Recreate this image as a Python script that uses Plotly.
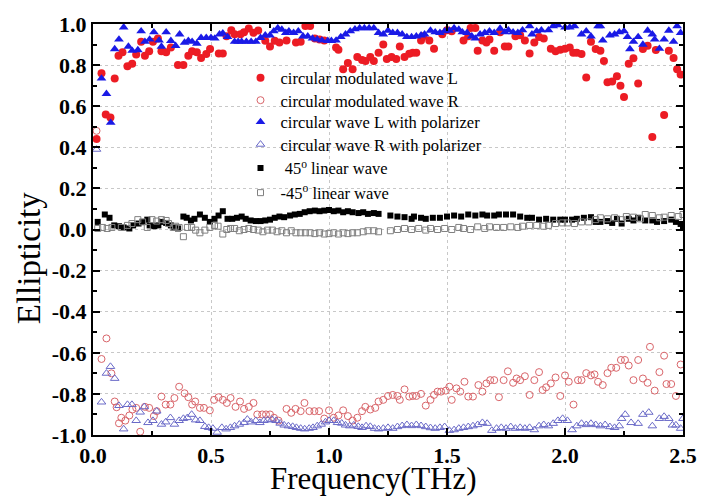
import plotly.graph_objects as go

# ---- data ----
RED_L_X = [0.015,0.036,0.054,0.074,0.092,0.108,0.125,0.146,0.166,0.183,0.204,0.22,0.238,0.254,0.275,0.29,0.31,0.33,0.36,0.383,
           0.404,0.42,0.44,0.458,0.48,0.496,0.533,0.55,0.566,0.586,0.60,0.625,0.64,0.66,0.68,0.70,0.73,0.75,0.77,0.79,
           0.82,0.86,0.88,0.90,0.92,0.94,0.96,0.98,1.03,1.04,1.06,1.08,1.10,1.12,1.14,1.155,1.175,1.19,1.21,1.23,
           1.245,1.265,1.285,1.30,1.32,1.34,1.355,1.37,1.39,1.40,1.425,1.445,1.48,1.50,1.52,1.57,1.59,1.60,1.62,1.63,
           1.65,1.667,1.68,1.70,1.725,1.745,1.76,1.79,1.81,1.83,1.85,1.87,1.89,1.91,1.94,1.96,1.98,2.00,2.02,2.035,
           2.05,2.07,2.09,2.11,2.13,2.15,2.165,2.18,2.20,2.22,2.235,2.25,2.27,2.29,2.31,2.33,2.35,2.37,2.385,2.42,
           2.44,2.46,2.475,2.49]
RED_L_Y = [0.44,0.76,0.56,0.545,0.735,0.846,0.862,0.794,0.806,0.851,0.914,0.846,0.867,0.914,0.93,0.867,0.862,0.886,0.80,0.80,
           0.846,0.867,0.862,0.835,0.854,0.878,0.857,0.857,0.94,0.97,0.95,0.95,0.96,0.978,0.957,0.968,0.918,0.89,0.918,0.91,
           0.92,0.91,0.914,0.99,0.99,0.93,0.925,0.92,0.886,0.875,0.78,0.81,0.78,0.84,0.825,0.82,0.84,0.82,0.86,0.90,
           0.83,0.84,0.83,0.89,0.84,0.855,0.86,0.86,0.92,0.94,0.92,0.88,0.95,0.97,0.965,0.92,0.94,0.98,0.98,0.87,
           0.92,0.91,0.925,0.87,0.96,0.89,0.89,0.94,0.945,0.92,0.857,0.91,0.937,0.93,0.88,0.867,0.875,0.88,0.886,0.86,
           0.86,0.854,0.74,0.914,0.878,0.87,0.82,0.716,0.72,0.746,0.70,0.645,0.806,0.833,0.71,0.878,0.894,0.45,0.873,0.557,
           0.87,0.835,0.78,0.754]

RED_R_X = [0.015,0.036,0.057,0.078,0.092,0.10,0.11,0.12,0.137,0.154,0.167,0.183,0.20,0.22,0.238,0.258,0.27,0.29,0.308,0.328,
           0.345,0.365,0.388,0.404,0.42,0.433,0.453,0.47,0.495,0.513,0.532,0.55,0.567,0.583,0.604,0.623,0.64,0.66,0.68,0.696,
           0.717,0.733,0.75,0.767,0.786,0.82,0.84,0.858,0.88,0.896,0.917,0.938,0.958,0.98,1.0,1.02,1.04,1.06,1.08,1.10,
           1.12,1.14,1.154,1.175,1.196,1.21,1.23,1.25,1.27,1.29,1.30,1.32,1.34,1.355,1.37,1.39,1.41,1.43,1.445,1.46,
           1.475,1.495,1.51,1.52,1.54,1.556,1.574,1.59,1.61,1.633,1.65,1.667,1.683,1.70,1.72,1.74,1.758,1.78,1.795,1.81,
           1.83,1.85,1.87,1.89,1.905,1.92,1.94,1.96,1.98,2.00,2.016,2.036,2.055,2.07,2.09,2.11,2.125,2.14,2.16,2.18,
           2.196,2.217,2.237,2.254,2.27,2.29,2.31,2.33,2.35,2.36,2.38,2.40,2.42,2.43,2.45,2.47,2.49]
RED_R_Y = [0.48,-0.63,-0.53,-0.70,-0.837,-0.865,-0.943,-0.916,-0.93,-0.905,-0.876,-0.868,-0.984,-0.863,-0.868,-0.908,-0.884,-0.813,-0.852,-0.852,
           -0.82,-0.765,-0.797,-0.816,-0.852,-0.837,-0.868,-0.868,-0.88,-0.829,-0.816,-0.829,-0.844,-0.82,-0.863,-0.837,-0.873,-0.863,-0.844,-0.90,
           -0.90,-0.90,-0.90,-0.916,-0.93,-0.873,-0.892,-0.873,-0.884,-0.844,-0.884,-0.884,-0.884,-0.92,-0.88,-0.916,-0.905,-0.88,-0.908,-0.93,
           -0.916,-0.884,-0.863,-0.876,-0.868,-0.837,-0.829,-0.81,-0.805,-0.81,-0.829,-0.778,-0.813,-0.81,-0.81,-0.80,-0.857,-0.829,-0.805,-0.789,
           -0.789,-0.784,-0.765,-0.829,-0.773,-0.789,-0.741,-0.813,-0.813,-0.757,-0.789,-0.749,-0.733,-0.733,-0.816,-0.733,-0.69,-0.746,-0.725,-0.733,
           -0.714,-0.805,-0.733,-0.694,-0.781,-0.768,-0.749,-0.72,-0.81,-0.71,-0.741,-0.852,-0.733,-0.733,-0.699,-0.71,-0.705,-0.741,-0.757,-0.699,
           -0.673,-0.673,-0.635,-0.635,-0.662,-0.733,-0.635,-0.725,-0.746,-0.571,-0.784,-0.694,-0.614,-0.752,-0.752,-0.81,-0.657]

BLUE_L_X = [0.036,0.057,0.075,0.092,0.11,0.13,0.15,0.166,0.19,0.204,0.22,0.24,0.258,0.28,0.29,0.31,0.33,0.35,0.367,0.388,
            0.404,0.42,0.44,0.458,0.48,0.50,0.516,0.536,0.55,0.57,0.60,0.615,0.63,0.65,0.67,0.69,0.71,0.73,0.75,0.766,
            0.783,0.80,0.817,0.83,0.85,0.87,0.89,0.91,0.93,0.95,0.97,0.995,1.01,1.03,1.05,1.07,1.09,1.11,1.13,1.15,
            1.17,1.19,1.21,1.23,1.25,1.27,1.29,1.31,1.33,1.35,1.37,1.39,1.405,1.43,1.45,1.47,1.49,1.51,1.53,1.55,
            1.565,1.585,1.605,1.62,1.64,1.66,1.68,1.70,1.725,1.745,1.76,1.78,1.80,1.82,1.85,1.86,1.88,1.90,1.93,1.95,
            1.97,2.00,2.02,2.04,2.07,2.09,2.11,2.14,2.15,2.16,2.19,2.21,2.23,2.25,2.265,2.275,2.29,2.31,2.33,2.35,
            2.37,2.38,2.40,2.42,2.44,2.46,2.475,2.49]
BLUE_L_Y = [0.735,0.66,0.52,0.878,0.925,0.984,0.89,0.87,0.873,0.965,0.914,0.925,0.96,0.92,0.89,0.96,0.918,0.894,0.95,0.91,
            0.918,0.914,0.905,0.933,0.933,0.933,0.93,0.95,0.955,0.937,0.914,0.914,0.914,0.914,0.914,0.914,0.933,0.945,0.945,0.965,
            0.98,0.973,0.957,0.965,0.957,0.965,0.94,0.94,0.93,0.925,0.92,0.918,0.918,0.92,0.937,0.95,0.965,0.975,0.98,0.98,
            0.98,0.98,0.957,0.95,0.968,0.957,0.957,0.95,0.937,0.937,0.94,0.945,0.95,0.968,0.96,0.957,0.965,0.968,0.98,0.973,
            0.96,0.957,0.94,0.93,0.95,0.957,0.965,0.957,0.978,0.96,0.97,0.96,0.957,0.97,0.99,0.95,0.965,0.97,0.97,0.99,
            0.995,0.984,0.984,0.99,0.95,0.965,0.94,0.99,0.99,0.92,0.945,0.95,0.96,0.965,0.937,0.878,0.914,0.937,0.90,0.968,
            0.95,0.925,0.88,0.925,0.968,0.914,0.99,0.957]

BLUE_R_X = [0.015,0.036,0.057,0.074,0.092,0.11,0.13,0.146,0.165,0.183,0.20,0.217,0.233,0.254,0.27,0.29,0.308,0.328,0.345,0.365,
            0.383,0.40,0.418,0.435,0.453,0.474,0.49,0.508,0.526,0.546,0.564,0.582,0.60,0.62,0.64,0.654,0.67,0.69,0.707,0.724,
            0.74,0.758,0.776,0.793,0.81,0.828,0.846,0.862,0.88,0.897,0.916,0.932,0.95,0.967,0.985,1.0,1.02,1.036,1.054,1.07,
            1.088,1.105,1.124,1.14,1.157,1.175,1.193,1.21,1.23,1.25,1.27,1.29,1.31,1.33,1.35,1.37,1.39,1.41,1.43,1.45,
            1.47,1.49,1.51,1.53,1.55,1.57,1.59,1.61,1.63,1.65,1.67,1.69,1.71,1.73,1.75,1.77,1.79,1.81,1.83,1.85,
            1.87,1.89,1.91,1.93,1.95,1.97,1.99,2.01,2.03,2.05,2.07,2.09,2.11,2.13,2.15,2.17,2.19,2.21,2.23,2.24,
            2.255,2.28,2.31,2.33,2.355,2.37,2.40,2.42,2.44,2.455,2.47,2.49,2.50]
BLUE_R_Y = [0.39,-0.84,-0.70,-0.667,-0.725,-0.857,-0.971,-0.852,-0.852,-0.93,-0.889,-0.863,-0.94,-0.93,-0.884,-0.948,-0.937,-0.916,-0.948,-0.93,
            -0.92,-0.916,-0.90,-0.927,-0.93,-0.959,-0.964,-0.968,-0.987,-0.964,-0.971,-0.964,-0.956,-0.948,-0.94,-0.924,-0.937,-0.93,-0.94,-0.93,
            -0.927,-0.924,-0.93,-0.943,-0.952,-0.956,-0.959,-0.964,-0.968,-0.971,-0.968,-0.964,-0.956,-0.948,-0.937,-0.93,-0.93,-0.94,-0.943,-0.952,
            -0.956,-0.952,-0.959,-0.964,-0.956,-0.959,-0.968,-0.971,-0.968,-0.964,-0.968,-0.96,-0.955,-0.95,-0.955,-0.95,-0.955,-0.96,-0.965,-0.968,
            -0.964,-0.96,-0.978,-0.975,-0.968,-0.964,-0.96,-0.956,-0.95,-0.94,-0.944,-0.978,-0.968,-0.964,-0.968,-0.96,-0.968,-0.964,-0.968,-0.964,
            -0.975,-0.956,-0.95,-0.956,-0.944,-0.93,-0.92,-0.93,-0.975,-0.956,-0.944,-0.95,-0.944,-0.95,-0.956,-0.95,-0.96,-0.964,-0.956,-0.92,
            -0.90,-0.94,-0.944,-0.90,-0.89,-0.956,-0.92,-0.91,-0.92,-0.952,-0.952,-0.968,-0.92]

LIN45_X = [0.02,0.05,0.07,0.09,0.11,0.13,0.154,0.17,0.193,0.21,0.23,0.24,0.26,0.277,0.29,0.31,0.33,0.345,0.36,0.383,
           0.397,0.415,0.43,0.453,0.474,0.495,0.515,0.532,0.55,0.57,0.59,0.61,0.63,0.647,0.668,0.69,0.71,0.73,0.75,0.77,
           0.79,0.81,0.835,0.855,0.876,0.897,0.918,0.94,0.96,0.98,1.0,1.02,1.04,1.06,1.08,1.10,1.125,1.145,1.165,1.19,
           1.21,1.26,1.29,1.32,1.35,1.36,1.39,1.41,1.44,1.47,1.50,1.53,1.56,1.59,1.62,1.65,1.67,1.70,1.72,1.75,
           1.78,1.81,1.84,1.86,1.89,1.92,1.95,1.98,2.0,2.03,2.05,2.08,2.11,2.13,2.15,2.18,2.20,2.22,2.24,2.27,
           2.29,2.31,2.34,2.37,2.39,2.42,2.45,2.47,2.49,2.50]
LIN45_Y = [0.037,0.073,0.057,0.02,0.016,0.01,0.005,0.02,0.029,0.037,0.048,0.02,0.016,0.02,0.037,0.032,0.02,0.01,0.005,0.063,
           0.057,0.044,0.052,0.073,0.057,0.037,0.052,0.068,0.089,0.052,0.052,0.057,0.063,0.052,0.044,0.041,0.041,0.044,0.048,0.057,
           0.063,0.06,0.068,0.073,0.076,0.084,0.089,0.092,0.089,0.092,0.095,0.089,0.092,0.084,0.089,0.084,0.08,0.084,0.076,0.08,
           0.076,0.068,0.063,0.06,0.052,0.063,0.057,0.052,0.057,0.057,0.063,0.068,0.063,0.073,0.068,0.073,0.068,0.068,0.073,0.073,
           0.073,0.063,0.057,0.057,0.048,0.052,0.048,0.048,0.048,0.048,0.052,0.057,0.06,0.037,0.037,0.041,0.032,0.052,0.029,0.052,
           0.044,0.057,0.044,0.044,0.037,0.041,0.048,0.037,0.027,0.016]

LINM45_X = [0.02,0.04,0.06,0.08,0.12,0.146,0.165,0.19,0.21,0.23,0.25,0.27,0.29,0.31,0.32,0.34,0.35,0.365,0.383,0.40,
            0.418,0.435,0.453,0.474,0.495,0.515,0.53,0.55,0.567,0.583,0.60,0.62,0.64,0.66,0.68,0.70,0.72,0.74,0.76,0.78,
            0.80,0.82,0.84,0.86,0.88,0.90,0.92,0.94,0.96,0.98,1.0,1.02,1.04,1.06,1.08,1.10,1.12,1.145,1.165,1.19,
            1.21,1.26,1.29,1.32,1.35,1.38,1.41,1.43,1.46,1.49,1.52,1.55,1.57,1.60,1.63,1.66,1.68,1.71,1.74,1.77,
            1.80,1.82,1.85,1.88,1.91,1.93,1.96,1.99,2.01,2.04,2.07,2.10,2.13,2.15,2.18,2.21,2.24,2.26,2.29,2.32,
            2.34,2.37,2.40,2.42,2.45,2.48,2.50]
LINM45_Y = [0.005,0.01,0.005,0.01,0.01,0.02,0.029,0.048,0.037,0.01,0.048,0.041,0.048,0.044,0.029,0.01,0.016,0.01,-0.035,0.01,
            0.01,-0.003,-0.016,-0.003,0.01,0.02,0.016,-0.022,0.0,0.005,0.005,-0.006,0.0,0.005,0.0,-0.003,-0.011,-0.003,-0.003,-0.011,
            -0.006,-0.016,-0.006,-0.016,-0.016,-0.016,-0.016,-0.02,-0.016,-0.022,-0.02,-0.016,-0.022,-0.016,-0.02,-0.016,-0.016,-0.011,-0.006,-0.006,
            -0.011,-0.006,0.0,0.005,0.0,0.005,-0.003,0.005,0.0,0.005,0.0,0.01,0.005,0.0,0.013,0.005,0.013,0.01,0.01,0.013,
            0.01,0.016,0.02,0.02,0.016,0.02,0.029,0.032,0.032,0.029,0.037,0.037,0.048,0.057,0.052,0.057,0.048,0.063,0.06,0.052,
            0.073,0.068,0.057,0.06,0.068,0.063,0.073]

X_TICKS = [0.0, 0.5, 1.0, 1.5, 2.0, 2.5]
Y_TICKS = [1.0, 0.8, 0.6, 0.4, 0.2, 0.0, -0.2, -0.4, -0.6, -0.8, -1.0]
X_TITLE = "Frequency(THz)"
Y_TITLE = "Ellipticity"

# name, x, y, symbol, colour, size, outline width, legend-row level (in y units)
SERIES = [
    ("circular modulated wave L", RED_L_X, RED_L_Y, "circle", "#ec1c24", 8, 0, 0.737),
    ("circular modulated wave R", RED_R_X, RED_R_Y, "circle-open", "#d9656a", 7, 1, 0.628),
    ("circular wave L with polarizer", BLUE_L_X, BLUE_L_Y, "triangle-up", "#1a1ae6", 8.5, 0, 0.522),
    ("circular wave R with polarizer", BLUE_R_X, BLUE_R_Y, "triangle-up-open", "#6a6ac8", 7.5, 1, 0.413),
    (" 45<sup>o</sup> linear wave", LIN45_X, LIN45_Y, "square", "#000000", 6, 0, 0.298),
    ("-45<sup>o</sup> linear wave", LINM45_X, LINM45_Y, "square-open", "#808080", 6, 1, 0.178),
]

serif = "Liberation Serif, Times New Roman, serif"
Y_MIN, Y_MAX = -1.0, 1.0

fig = go.Figure()
legend_layout = {}
for i, (name, xs, ys, sym, col, size, lw, row) in enumerate(SERIES):
    key = "legend" if i == 0 else f"legend{i + 1}"
    fig.add_trace(go.Scatter(
        x=xs, y=ys, mode="markers", name=name, legend=key,
        marker=dict(symbol=sym, color=col, size=size,
                    line=dict(color=col, width=lw)),
    ))
    legend_layout[key] = dict(
        x=0.25, y=(row - Y_MIN) / (Y_MAX - Y_MIN), xanchor="left", yanchor="middle",
        bgcolor="rgba(0,0,0,0)", borderwidth=0,
        font=dict(family=serif, size=16.5, color="black"), itemwidth=30,
    )

axis_common = dict(
    showline=True, linecolor="black", linewidth=2, mirror="ticks",
    ticks="inside", ticklen=7, tickwidth=1.5, tickcolor="black",
    showgrid=True, gridcolor="#c8c8c8", griddash="dot", gridwidth=1,
    zeroline=False,
    tickfont=dict(family=serif, size=22, color="black", weight="bold"),
)

fig.update_xaxes(
    range=[0, 2.5], tickvals=X_TICKS, ticktext=[f"{v:.1f}" for v in X_TICKS],
    minor=dict(dtick=0.25, tick0=0, ticks="inside", ticklen=4, tickcolor="black", showgrid=False),
    **axis_common,
)
fig.update_yaxes(
    range=[Y_MIN, Y_MAX], tickvals=Y_TICKS, ticktext=[f"{v:.1f}" for v in Y_TICKS],
    minor=dict(dtick=0.1, tick0=0, ticks="inside", ticklen=4, tickcolor="black", showgrid=False),
    **axis_common,
)

fig.add_annotation(text=X_TITLE, xref="paper", yref="paper", x=0.475, y=0,
                   xanchor="center", yanchor="bottom", yshift=-62, showarrow=False,
                   borderpad=0, font=dict(family=serif, size=31, color="black"))
fig.add_annotation(text=Y_TITLE, xref="paper", yref="paper", x=0, y=0.43,
                   xanchor="center", yanchor="middle", xshift=-64, textangle=-90, showarrow=False,
                   font=dict(family=serif, size=33, color="black"))

fig.update_layout(
    width=709, height=497,
    margin=dict(l=93, r=16, t=16, b=62),
    paper_bgcolor="white", plot_bgcolor="white",
    showlegend=True,
    **legend_layout,
)

fig.write_html("out.html")
